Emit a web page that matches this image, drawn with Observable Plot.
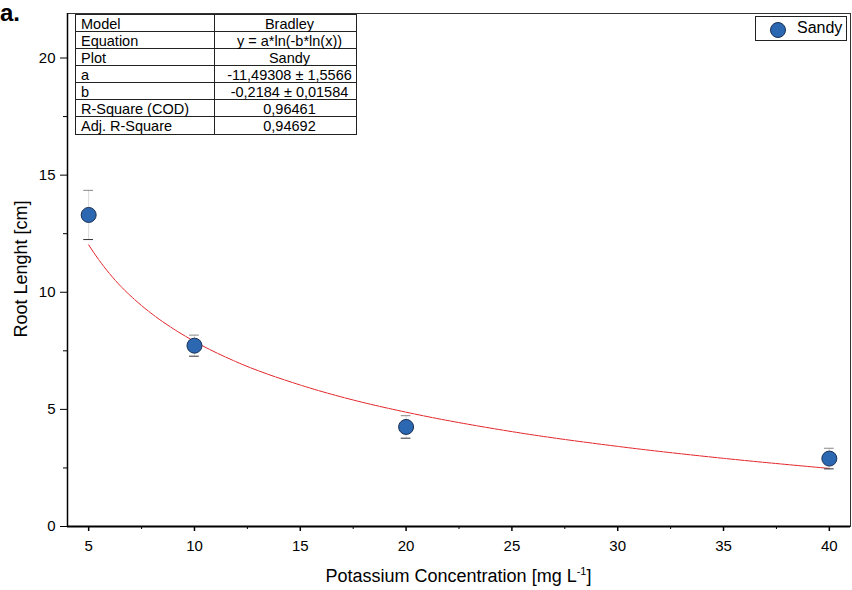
<!DOCTYPE html>
<html><head><meta charset="utf-8">
<script src="https://cdn.jsdelivr.net/npm/d3@7"></script>
<script src="https://cdn.jsdelivr.net/npm/@observablehq/plot@0.6"></script>
<style>
body{margin:0;background:#fff;font-family:"Liberation Sans",Arial,sans-serif;color:#000}
#wrap{position:relative;width:852px;height:590px;overflow:hidden;background:#fff}
#wrap svg{position:absolute;left:0;top:0}
.abs{position:absolute;white-space:nowrap}
#panel{left:0;top:0px;font-weight:bold;font-size:24px;line-height:26px;height:26px}
#ytitle{left:-129px;top:260px;width:300px;height:18px;line-height:18px;font-size:18px;text-align:center;transform:rotate(-90deg)}
#xtitle{left:67px;top:567px;width:783px;line-height:18px;font-size:18px;text-align:center}
#xtitle sup{font-size:11px;vertical-align:7px;line-height:0}
#table{left:75px;top:14px;width:282px;border:1px solid #222;box-sizing:border-box;font-size:14.5px;background:#fff}
.row{display:flex;height:17px;border-bottom:1px solid #222;box-sizing:border-box}
.row:last-child{border-bottom:none}
.c1{width:139px;border-right:1px solid #222;padding-left:5px;box-sizing:border-box;line-height:18px}
.c2{flex:1;text-align:center;padding-left:8px;box-sizing:border-box;line-height:18px}
#legend{left:755px;top:16px;width:92px;height:25px;border:1px solid #222;box-sizing:border-box;background:#fff;font-size:16px}
#legend svg{position:absolute;left:13px;top:4px}
#legend span{position:absolute;left:41px;top:2px;line-height:18px}
</style></head><body><div id="wrap"></div><script>
// ---- data ----
const concentrations = [5, 10, 20, 40];
const rootLength = [13.3, 7.72, 4.25, 2.9];
const rootError = [1.05, 0.45, 0.48, 0.44];
const fitX = [5, 5.5, 6, 6.5, 7, 8, 9, 10, 12, 15, 17.5, 20, 25, 30, 35, 40];
const fitY = [12.02, 11.36, 10.78, 10.27, 9.83, 9.07, 8.44, 7.90, 7.02, 6.04, 5.40, 4.88, 4.05, 3.42, 2.91, 2.48];
const xTicks = [5, 10, 15, 20, 25, 30, 35, 40];
const xMinor = [7.5, 12.5, 17.5, 22.5, 27.5, 32.5, 37.5];
const yTicks = [0, 5, 10, 15, 20];
const yMinor = [2.5, 7.5, 12.5, 17.5];
const tableLabels = ["Model", "Equation", "Plot", "a", "b", "R-Square (COD)", "Adj. R-Square"];
const tableValues = ["Bradley", "y = a*ln(-b*ln(x))", "Sandy", "-11,49308 ± 1,5566", "-0,2184 ± 0,01584", "0,96461", "0,94692"];
const seriesName = "Sandy";
const panelLabel = "a.";
const xLabel = "Potassium Concentration [mg L";
const xLabelSup = "-1";
const yLabel = "Root Lenght [cm]";

const pts = concentrations.map((x, i) => ({x, y: rootLength[i], e: rootError[i]}));
const fit = fitX.map((x, i) => ({x, y: fitY[i]}));
const blue = "#2c68b2";

const chart = Plot.plot({
  width: 852, height: 590,
  marginLeft: 67, marginRight: 2, marginTop: 13, marginBottom: 64,
  style: {fontFamily: "'Liberation Sans', Arial, sans-serif", fontSize: "15px", background: "transparent", color: "#000"},
  x: {domain: [4, 41]},
  y: {domain: [0, 21.9]},
  marks: [
    Plot.frame({stroke: "#333", strokeWidth: 1}),
    Plot.axisX({ticks: xTicks, tickSize: 5, tickPadding: 9, label: null, tickFormat: d => String(d), strokeWidth: 1.5}),
    Plot.axisX({ticks: xMinor, tickSize: 3, label: null, tickFormat: () => "", strokeWidth: 1}),
    Plot.axisY({ticks: yTicks, tickSize: 7, tickPadding: 5, label: null, tickFormat: d => String(d), strokeWidth: 1}),
    Plot.axisY({ticks: yMinor, tickSize: 4, label: null, tickFormat: () => "", strokeWidth: 1}),
    Plot.ruleY([0], {stroke: "#000", strokeWidth: 2}),
    Plot.ruleX([4], {stroke: "#000", strokeWidth: 1.5}),
    Plot.line(fit, {x: "x", y: "y", stroke: "#e3262b", strokeWidth: 1, curve: "monotone-x", strokeDasharray: "8,1"}),
    Plot.ruleX(pts, {x: "x", y1: d => d.y - d.e, y2: d => d.y + d.e, stroke: "#dadada", strokeWidth: 1}),
    Plot.ruleY(pts, {y: d => d.y - d.e, x1: d => d.x - 0.23, x2: d => d.x + 0.23, stroke: "#333", strokeWidth: 1}),
    Plot.ruleY(pts, {y: d => d.y + d.e, x1: d => d.x - 0.23, x2: d => d.x + 0.23, stroke: "#888", strokeWidth: 1}),
    Plot.dot(pts, {x: "x", y: "y", r: 7.5, fill: blue, stroke: "#1a2f52", strokeWidth: 1})
  ]
});

const wrap = document.getElementById("wrap");
wrap.appendChild(chart);

function div(id, html) {
  const d = document.createElement("div");
  d.id = id; d.className = "abs"; d.innerHTML = html;
  wrap.appendChild(d);
  return d;
}
div("panel", panelLabel);
div("ytitle", yLabel);
div("xtitle", xLabel + "<sup>" + xLabelSup + "</sup>]");
const t = div("table", "");
tableLabels.forEach((lab, i) => {
  const r = document.createElement("div");
  r.className = "row";
  const a = document.createElement("div"); a.className = "c1"; a.textContent = lab;
  const b = document.createElement("div"); b.className = "c2"; b.textContent = tableValues[i];
  r.appendChild(a); r.appendChild(b); t.appendChild(r);
});
div("legend", `<svg width="18" height="18"><circle cx="9" cy="9" r="7.5" fill="${blue}" stroke="#1a2f52"/></svg><span>${seriesName}</span>`);
</script></body></html>
